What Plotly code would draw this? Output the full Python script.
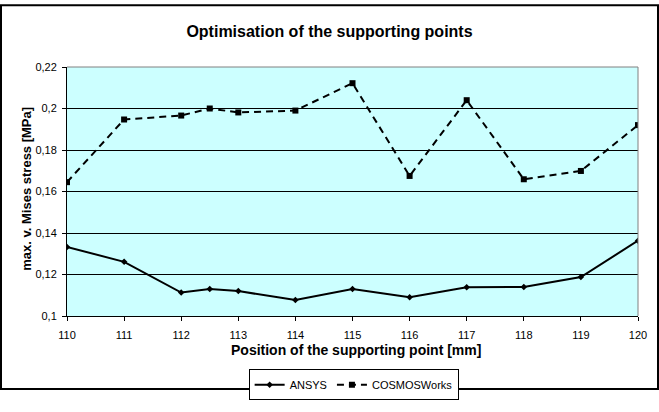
import plotly.graph_objects as go

positions = [110, 111, 112, 112.5, 113, 114, 115, 116, 117, 118, 119, 120]
ansys = [0.1333, 0.1261, 0.1113, 0.1130, 0.1120, 0.1077, 0.1130, 0.1090, 0.1138, 0.1140, 0.1188, 0.1363]
cosmos = [0.1645, 0.1947, 0.1966, 0.2000, 0.1981, 0.1990, 0.2122, 0.1675, 0.2040, 0.1659, 0.1699, 0.1920]
x_ticks = [110, 111, 112, 113, 114, 115, 116, 117, 118, 119, 120]
y_ticks = [0.10, 0.12, 0.14, 0.16, 0.18, 0.20, 0.22]
y_ticklabels = ["0,1", "0,12", "0,14", "0,16", "0,18", "0,2", "0,22"]

W, H = 659, 412
L, R, T, B = 67, 21, 67, 79
PW, PH = W - L - R, H - T - B

def px(xp):
    return (xp - L) / PW

def py(yp):
    return (H - B - yp) / PH

FONT = "Liberation Sans, Arial, sans-serif"

fig = go.Figure()
fig.add_trace(go.Scatter(
    x=positions, y=ansys, name="ANSYS", mode="lines+markers",
    line=dict(color="black", width=2),
    marker=dict(symbol="diamond", size=5, color="black"),
))
fig.add_trace(go.Scatter(
    x=positions, y=cosmos, name="COSMOSWorks", mode="lines+markers",
    line=dict(color="black", width=2, dash="7px,5px"),
    marker=dict(symbol="square", size=6, color="black"),
))

fig.update_layout(
    width=W, height=H,
    margin=dict(l=L, r=R, t=T, b=B),
    paper_bgcolor="white",
    plot_bgcolor="#CCFFFF",
    font=dict(family=FONT, size=11, color="black"),
    title=dict(text="<b>Optimisation of the supporting points</b>",
               x=0.5, xref="container", xanchor="center",
               y=1 - 31 / H, yref="container", yanchor="middle",
               font=dict(family=FONT, size=16, color="black")),
    showlegend=True,
    legend=dict(orientation="h", x=0.502, xref="paper", xanchor="center",
                y=py(390), yanchor="top",
                bordercolor="black", borderwidth=1, bgcolor="white",
                font=dict(family=FONT, size=11, color="black"),
                itemwidth=30, tracegroupgap=0),
    xaxis=dict(range=[110, 120], tickvals=x_ticks, ticktext=[str(v) for v in x_ticks],
               showgrid=False, zeroline=False,
               showline=True, linecolor="black", linewidth=1,
               ticks="outside", ticklen=4, tickcolor="black", ticklabelstandoff=5,
               tickfont=dict(family=FONT, size=11, color="black")),
    yaxis=dict(range=[0.1, 0.22], tickvals=y_ticks, ticktext=y_ticklabels,
               showgrid=True, gridcolor="black", gridwidth=1, zeroline=False,
               showline=True, linecolor="black", linewidth=1,
               ticks="outside", ticklen=4, tickcolor="black", ticklabelstandoff=3,
               tickfont=dict(family=FONT, size=11, color="black")),
    shapes=[
        dict(type="line", xref="paper", yref="paper", x0=0, x1=1, y0=1, y1=1,
             line=dict(color="#808080", width=1)),
        dict(type="line", xref="paper", yref="paper", x0=1, x1=1, y0=0, y1=1,
             line=dict(color="#808080", width=1)),
        dict(type="rect", xref="paper", yref="paper",
             x0=px(1), x1=px(658), y0=py(411), y1=py(1),
             line=dict(color="black", width=2), fillcolor="rgba(0,0,0,0)"),
    ],
    annotations=[
        dict(text="<b>max. v. Mises stress [MPa]</b>", xref="paper", yref="paper",
             x=px(27), y=py(197), xanchor="center", yanchor="middle", textangle=-90,
             showarrow=False, font=dict(family=FONT, size=13, color="black")),
        dict(text="<b>Position of the supporting point [mm]</b>", xref="paper", yref="paper",
             x=px(356), y=py(369), xanchor="center", yanchor="middle",
             showarrow=False, font=dict(family=FONT, size=14, color="black")),
    ],
)

fig.write_html("out.html", config={"displayModeBar": False},
               post_script="document.body.style.margin='0';document.body.style.overflow='hidden';")
